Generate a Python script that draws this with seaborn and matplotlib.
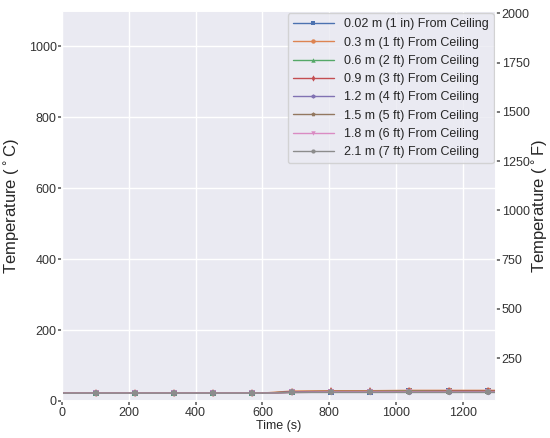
import numpy as np
import matplotlib
matplotlib.use('Agg')
import matplotlib.pyplot as plt
import seaborn as sns

# time points (s) and temperatures (C) at each height
time = [0, 100, 218, 335, 453, 570, 610, 688, 805, 923, 1040, 1158, 1275, 1300]
labels = ['0.02 m (1 in) From Ceiling', '0.3 m (1 ft) From Ceiling',
          '0.6 m (2 ft) From Ceiling', '0.9 m (3 ft) From Ceiling',
          '1.2 m (4 ft) From Ceiling', '1.5 m (5 ft) From Ceiling',
          '1.8 m (6 ft) From Ceiling', '2.1 m (7 ft) From Ceiling']
temps = [
    [22, 22, 22, 22, 22, 22, 22, 25, 26, 26, 27, 27, 27, 27],
    [22, 22, 22, 22, 22, 22, 23, 28, 29, 29, 30, 30, 30, 30],
    [22, 22, 22, 22, 22, 22, 22, 26, 27, 27, 28, 28, 28, 28],
    [22, 22, 22, 22, 22, 22, 22, 26, 27, 27, 27, 28, 28, 28],
    [22, 22, 22, 22, 22, 22, 22, 25, 26, 26, 26, 26, 26, 26],
    [22, 22, 22, 22, 22, 22, 22, 24, 25, 25, 25, 25, 25, 25],
    [22, 22, 22, 22, 22, 22, 22, 24, 25, 25, 25, 25, 25, 25],
    [22, 22, 22, 22, 22, 22, 22, 24, 24, 24, 24, 24, 24, 24],
]
markers = ['s', 'o', '^', 'd', 'h', 'p', 'v', '8']

sns.set_theme(style='darkgrid', palette='deep')
plt.rcParams['font.family'] = ['Liberation Sans', 'DejaVu Sans']

fig = plt.figure(figsize=(5.5, 4.38), dpi=100)
ax = fig.add_axes([0.113, 0.0845, 0.789, 0.8905])
marks = [1, 2, 3, 4, 5, 7, 8, 9, 10, 11, 12]
for i in range(len(labels)):
    sns.lineplot(x=time, y=temps[i], ax=ax, label=labels[i], marker=markers[i],
                 markersize=4, linewidth=1, markevery=marks, markeredgewidth=0)

ax.set_xlim(0, 1300)
ax.set_ylim(0, 1100)
ax.set_xticks([0, 200, 400, 600, 800, 1000, 1200])
ax.set_yticks([0, 200, 400, 600, 800, 1000])
ax.tick_params(labelsize=9, pad=1, length=3, left=True, bottom=True,
               color='#666666', labelcolor='#333333')
ax.set_xlabel('Time (s)', fontsize=9, labelpad=1)
ax.set_ylabel('Temperature ($^\\circ$C)', fontsize=12, labelpad=5)
leg = ax.legend(loc='upper right', fontsize=9, frameon=True, framealpha=0.8,
                borderpad=0.4, labelspacing=0.5, handlelength=3.3,
                borderaxespad=0.2, markerscale=0.8)
leg.get_frame().set_edgecolor('#cccccc')

ax2 = ax.twinx()
ax2.set_ylim(0 * 1.8 + 32, 1100 * 1.8 + 32)
ax2.set_yticks([250, 500, 750, 1000, 1250, 1500, 1750, 2000])
ax2.grid(False)
ax2.tick_params(labelsize=9, pad=1, length=3, right=True,
                color='#666666', labelcolor='#333333')
ax2.set_ylabel('Temperature ($^\\circ$F)', fontsize=12, labelpad=0)

plt.savefig('out.png', dpi=100)
